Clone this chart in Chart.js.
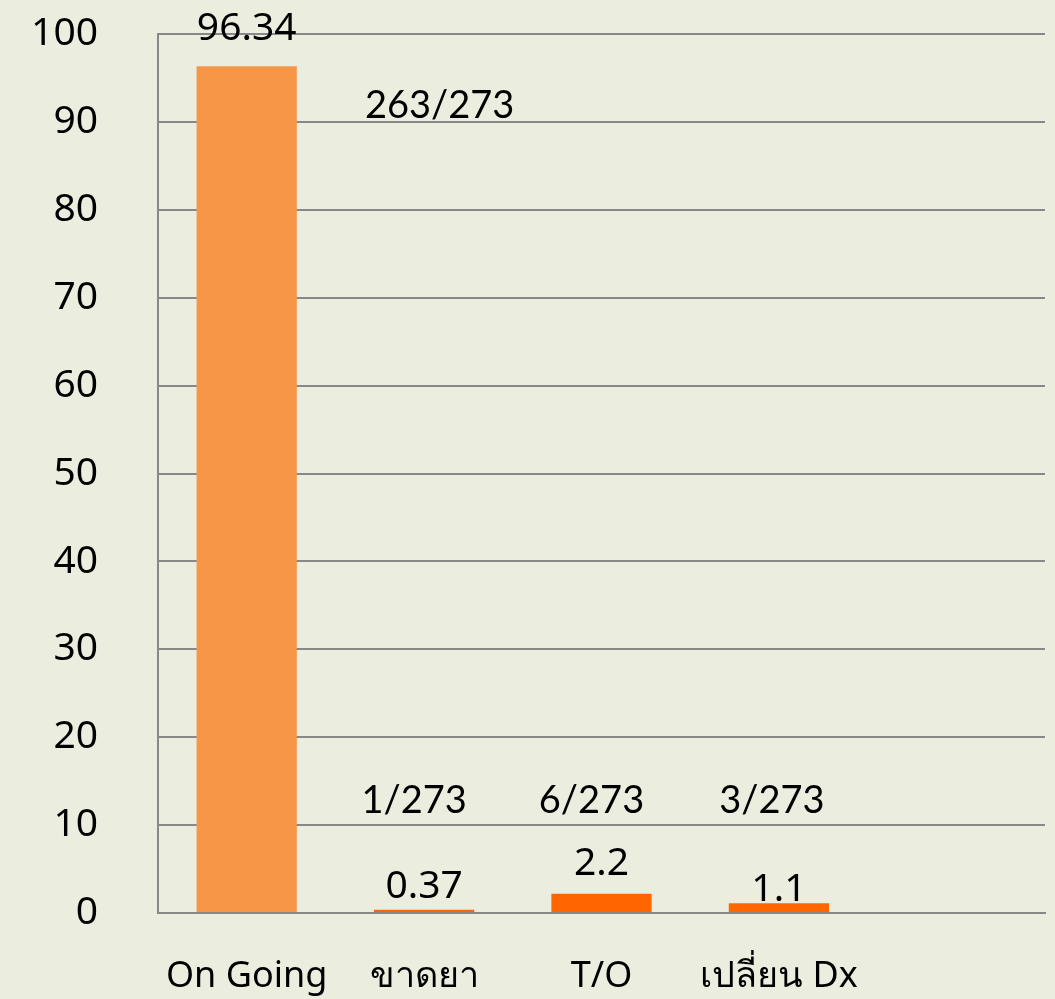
<!DOCTYPE html>
<html lang="th">
<head>
    <meta charset="UTF-8">
    <script src="https://cdn.jsdelivr.net/npm/chart.js"></script>
    <title>On Going</title>
</head>
<style>
    html, body {
        margin: 0;
        padding: 0;
        background: #ebeedf;
    }
    .wrap {
        width: 1055px;
        height: 999px;
    }
</style>
<body>
    <div class="wrap"><canvas id="chart"></canvas></div>
</body>
<script>
    // data
    const categories = ['On Going', 'ขาดยา', 'T/O', 'เปลี่ยน Dx', ''];
    const percentValues = [96.34, 0.37, 2.2, 1.1, null];
    const fractionLabels = ['263/273', '1/273', '6/273', '3/273'];
    const yTicks = [0, 10, 20, 30, 40, 50, 60, 70, 80, 90, 100];

    const barColors = ['#f79646', '#ff6600', '#ff6600', '#ff6600', '#ff6600'];
    const fontFamily = "'Noto Sans', 'DejaVu Sans', sans-serif";

    // gap in px between bar top and its value text
    const valueGap = [26, 12, 19, 2];
    // where the x/273 notes sit (baseline value on y axis, shift in px from the category centre)
    const fractionPos = [
        { y: 90.4, dx: 193 },
        { y: 11.4, dx: -10 },
        { y: 11.4, dx: -10 },
        { y: 11.4, dx: -7 }
    ];

    const bgPlugin = {
        id: 'bg',
        beforeDraw(chart) {
            const ctx = chart.ctx;
            ctx.save();
            ctx.fillStyle = '#ebeedf';
            ctx.fillRect(0, 0, chart.width, chart.height);
            ctx.restore();
        }
    };

    const labelPlugin = {
        id: 'barLabels',
        afterDatasetsDraw(chart) {
            const ctx = chart.ctx;
            const xs = chart.scales.x;
            const ys = chart.scales.y;
            ctx.save();
            ctx.fillStyle = '#000';
            ctx.textAlign = 'center';
            ctx.textBaseline = 'alphabetic';

            // value above each bar
            ctx.font = '39px ' + fontFamily;
            percentValues.forEach(function (v, i) {
                if (v === null) return;
                var x = xs.getPixelForValue(i);
                var y = ys.getPixelForValue(v);
                ctx.fillText(String(v), x, y - valueGap[i]);
            });

            // n/273 notes
            ctx.font = '38px Lato, ' + fontFamily;
            fractionLabels.forEach(function (t, i) {
                var x = xs.getPixelForValue(i) + fractionPos[i].dx;
                var y = ys.getPixelForValue(fractionPos[i].y);
                ctx.fillText(t, x, y);
            });
            ctx.restore();
        }
    };

    var ctx = document.getElementById('chart').getContext('2d');

    var chart = new Chart(ctx, {
        type: 'bar',
        data: {
            labels: categories,
            datasets: [{
                data: percentValues,
                backgroundColor: barColors,
                borderWidth: 0,
                barPercentage: 0.565,
                categoryPercentage: 1.0
            }]
        },
        options: {
            responsive: true,
            maintainAspectRatio: false,
            animation: false,
            layout: {
                padding: { top: 34, right: 10, left: 0, bottom: 0 }
            },
            plugins: {
                legend: { display: false },
                tooltip: { enabled: false }
            },
            scales: {
                x: {
                    z: 1, // bottom axis line over the bars
                    grid: { display: false, drawTicks: false },
                    border: { display: true, color: '#888', width: 2 },
                    ticks: {
                        color: '#000',
                        padding: 42,
                        font: { family: fontFamily, size: 36 }
                    },
                    afterFit(scale) {
                        scale.height = 86;
                        scale.paddingLeft = 0;
                        scale.paddingRight = 0;
                    }
                },
                y: {
                    min: 0,
                    max: 100,
                    afterBuildTicks(scale) {
                        scale.ticks = yTicks.map(function (v) { return { value: v }; });
                    },
                    grid: { color: '#888', lineWidth: 2, drawTicks: false },
                    border: { display: true, color: '#888', width: 2 },
                    ticks: {
                        color: '#000',
                        padding: 60,
                        font: { family: fontFamily, size: 39 }
                    },
                    afterFit(scale) {
                        scale.width = 158;
                        scale.paddingTop = 0;
                        scale.paddingBottom = 0;
                    }
                }
            }
        },
        plugins: [bgPlugin, labelPlugin]
    });
</script>
</html>
